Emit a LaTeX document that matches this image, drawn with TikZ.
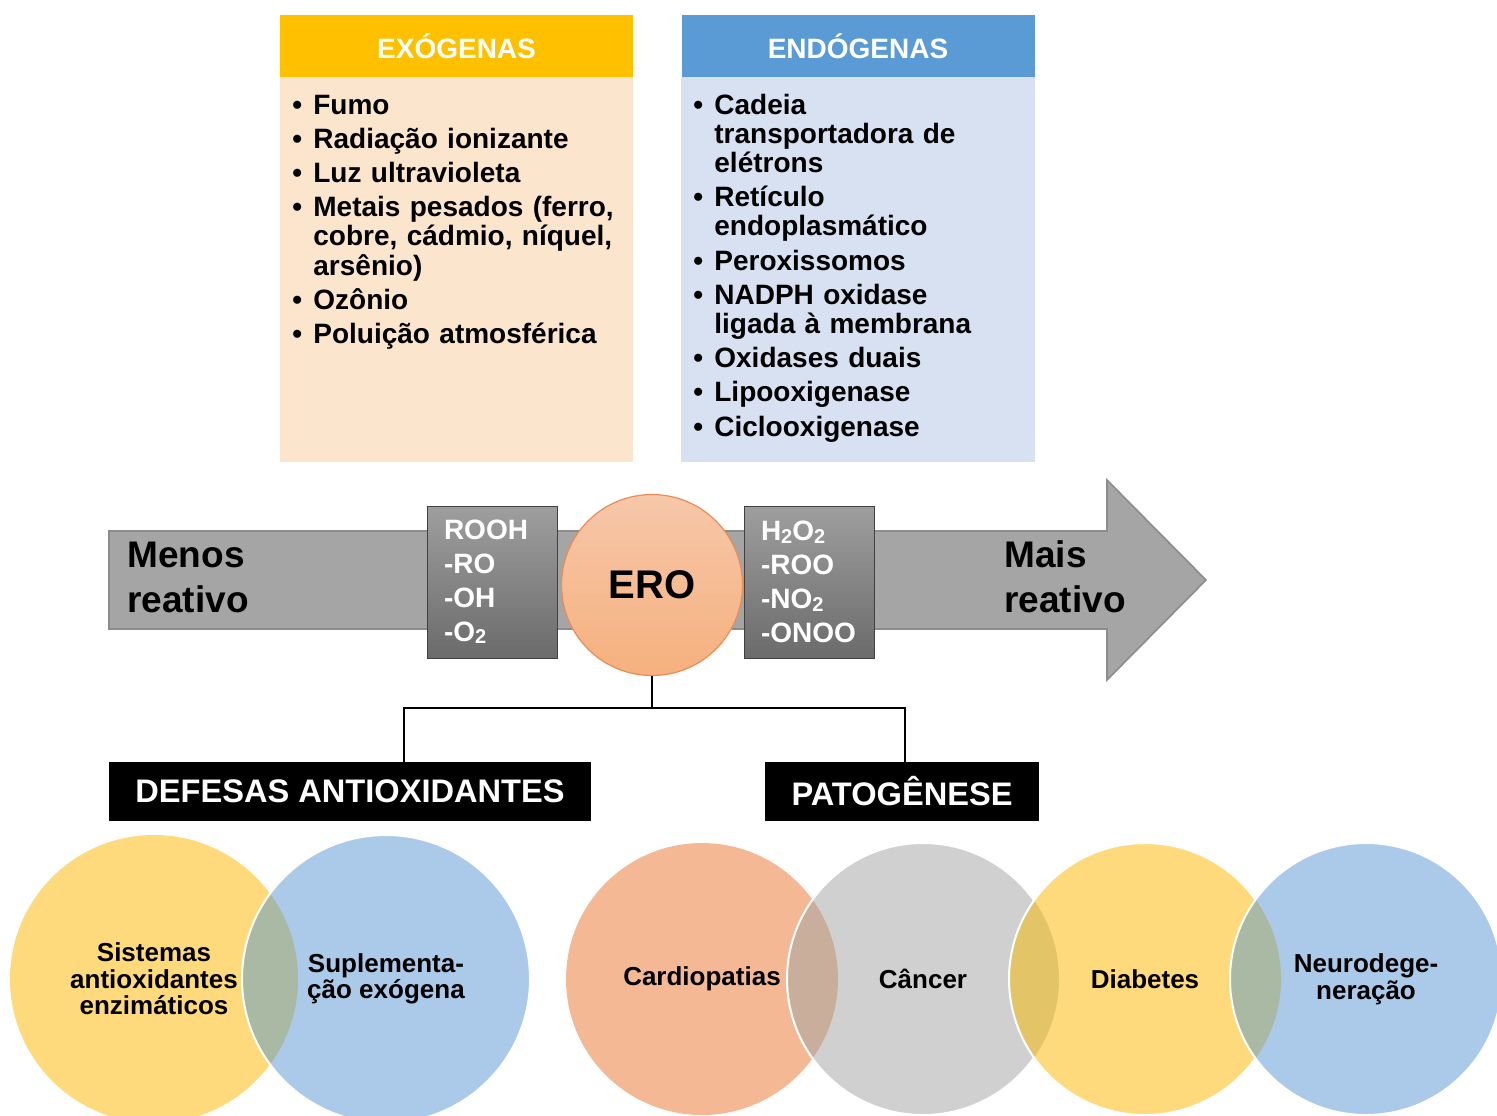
\documentclass[tikz,border=0pt]{standalone}
\usepackage{fontspec}
\setmainfont{Liberation Sans}
\usetikzlibrary{positioning}

\definecolor{exohead}{HTML}{FFC000}
\definecolor{exobody}{HTML}{FCE5CD}
\definecolor{endohead}{HTML}{5B9BD5}
\definecolor{endobody}{HTML}{D7E1F1}
\definecolor{setacor}{HTML}{A5A5A5}
\definecolor{setaborda}{HTML}{8C8C8C}
\definecolor{eroborda}{HTML}{ED8B55}
\definecolor{pessego}{HTML}{F4B994}
\definecolor{cinza}{HTML}{D0D0D0}
\definecolor{amarelo}{HTML}{FFDA7C}
\definecolor{azul}{HTML}{ABC9E8}
\definecolor{pesCinza}{HTML}{C9AE9C}
\definecolor{cinzaAm}{HTML}{E3C568}
\definecolor{amAzul}{HTML}{A9B9A3}

% 列表格式
\newcommand{\listafmt}{\setlength{\parskip}{2.5pt}\lineskiplimit=-20pt\relax}
\newcommand{\li}[1]{\hangindent=10.5pt\hangafter=1\noindent
  \makebox[10.5pt][l]{\textbullet}#1\par}
% 小号下标
\newcommand{\ind}[1]{\raisebox{-1.2pt}{\fontsize{10}{10}\selectfont #1}}

\tikzset{
  titulo/.style={minimum width=176.5pt, minimum height=31pt, inner sep=0pt,
    text=white, font=\bfseries\fontsize{14}{16}\selectfont},
  lista/.style={text width=172pt, align=left, inner sep=0pt,
    font=\bfseries\fontsize{14}{14.6}\selectfont},
  radbox/.style={draw=black!75, top color=black!38, bottom color=black!58,
    minimum width=65pt, minimum height=76pt, inner xsep=8.5pt, inner ysep=0pt,
    text width=48pt, align=left, text=white,
    font=\bfseries\fontsize{14}{17}\selectfont},
  reativo/.style={text width=130pt, align=left, inner sep=0pt,
    font=\bfseries\fontsize{18.5}{22.5}\selectfont},
  caixapreta/.style={fill=black, text=white, minimum height=29.5pt, inner sep=0pt,
    font=\bfseries\fontsize{16.3}{18}\selectfont},
  venntxt/.style={align=center, inner sep=0pt, font=\bfseries\fontsize{13}{13.3}\selectfont},
  ligacao/.style={line width=1.4pt}
}

\begin{document}
\begin{tikzpicture}[x=0.5pt,y=-0.5pt]
  % 画布
  \clip (0,0) rectangle (1497,1115);

  % 外源与内源
  \fill[exobody] (280,77) rectangle (633,462);
  \fill[endobody] (681,77) rectangle (1035,462);
  \node[titulo, fill=exohead] (exo) at (456.5,46) {EXÓGENAS};
  \node[titulo, fill=endohead] (endo) at (858,46) {ENDÓGENAS};

  \node[lista, anchor=base west] (exolista) at (292,114) {\listafmt
    \li{Fumo}
    \li{Radiação ionizante}
    \li{Luz ultravioleta}
    \li{Metais pesados (ferro,\newline cobre, cádmio, níquel,\newline arsênio)}
    \li{Ozônio}
    \li{Poluição atmosférica}};
  \node[lista, anchor=base west] (endolista) at (693,114) {\listafmt
    \li{Cadeia\newline transportadora de\newline elétrons}
    \li{Retículo\newline endoplasmático}
    \li{Peroxissomos}
    \li{NADPH oxidase\newline ligada à membrana}
    \li{Oxidases duais}
    \li{Lipooxigenase}
    \li{Ciclooxigenase}};

  % 箭头
  \draw[fill=setacor, draw=setaborda, line width=0.8pt]
    (109,531) -- (1107,531) -- (1107,480) -- (1206,580)
    -- (1107,680) -- (1107,629) -- (109,629) -- cycle;
  \node[reativo, anchor=base west] (menos) at (127,567) {Menos\\reativo};
  \node[reativo, anchor=base west] (mais) at (1004,567) {Mais\\reativo};

  % 两侧的灰框
  \node[radbox] (baixo) at (492,582) {ROOH\\-RO\\-OH\\-O\ind{2}};
  \node[radbox] (alto) at (809,582) {H\ind{2}O\ind{2}\\-ROO\\-NO\ind{2}\\-ONOO};

  % 中心圆
  \node[circle, draw=eroborda, line width=0.6pt, top color=pessego!80!white,
    bottom color=pessego!85!orange, minimum size=90.5pt, inner sep=0pt,
    font=\bfseries\fontsize{20}{22}\selectfont] (ero) at (652,585) {ERO};

  % 分支
  \node[caixapreta, minimum width=241pt] (defesas) at (350,791.5) {DEFESAS ANTIOXIDANTES};
  \node[caixapreta, minimum width=137pt] (patog) at (902,791.5) {PATOGÊNESE};

  \coordinate (ramo) at (652,708);
  \coordinate (ramoE) at (404,708);
  \coordinate (ramoD) at (905,708);
  \draw[ligacao] (ero.south) -- (ramo);
  \draw[ligacao, line cap=rect] (ramoE) -- (ramoD);
  \draw[ligacao] (ramoE) -- (ramoE |- defesas.north);
  \draw[ligacao] (ramoD) -- (ramoD |- patog.north);

  % 抗氧化防御
  \coordinate (S1) at (154,979);
  \coordinate (S2) at (386,979);
  \fill[amarelo] (S1) circle (72pt);
  \fill[azul] (S2) circle (72pt);
  \begin{scope}
    \clip (S1) circle (72pt);
    \fill[amAzul] (S2) circle (72pt);
  \end{scope}
  \draw[white, line width=1pt] (S2) circle (72pt);
  \node[venntxt] (sistemas) at (S1) {Sistemas\\antioxidantes\\enzimáticos};
  \node[venntxt] (suplem) at (S2) {Suplementa-\\ção exógena};

  % 病理
  \coordinate (P1) at (702,979);
  \coordinate (P2) at (923,979);
  \coordinate (P3) at (1145,979);
  \coordinate (P4) at (1366,979);
  \fill[pessego] (P1) circle (68pt);
  \fill[cinza] (P2) circle (68pt);
  \begin{scope}
    \clip (P1) circle (68pt);
    \fill[pesCinza] (P2) circle (68pt);
  \end{scope}
  \draw[white, line width=1pt] (P2) circle (68pt);
  \fill[amarelo] (P3) circle (68pt);
  \begin{scope}
    \clip (P2) circle (68pt);
    \fill[cinzaAm] (P3) circle (68pt);
  \end{scope}
  \draw[white, line width=1pt] (P3) circle (68pt);
  \fill[azul] (P4) circle (68pt);
  \begin{scope}
    \clip (P3) circle (68pt);
    \fill[amAzul] (P4) circle (68pt);
  \end{scope}
  \draw[white, line width=1pt] (P4) circle (68pt);

  \node[venntxt] (cardio) at (P1) {Cardiopatias};
  \node[venntxt] (cancer) at (P2) {Câncer};
  \node[venntxt] (diab) at (P3) {Diabetes};
  \node[venntxt] (neuro) at (P4) {Neurodege-\\neração};
\end{tikzpicture}
\end{document}
